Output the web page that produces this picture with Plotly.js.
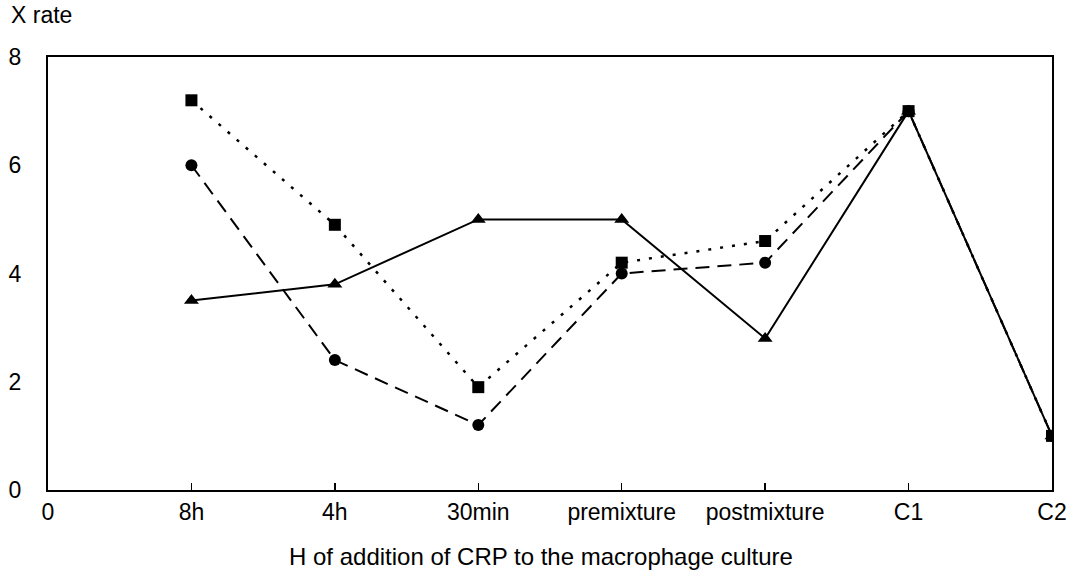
<!DOCTYPE html>
<html>
<head>
<meta charset="utf-8">
<script src="https://cdn.plot.ly/plotly-3.0.1.min.js"></script>
<style>html,body{margin:0;padding:0;background:#fff;}#chart{width:1076px;height:572px;}</style>
</head>
<body>
<div id="chart"></div>
<script>
var tickPositions = [0, 1, 2, 3, 4, 5, 6, 7];
var tickLabels = ["0", "8h", "4h", "30min", "premixture", "postmixture", "C1", "C2"];
var pointX = [1, 2, 3, 4, 5, 6, 7];
var squareValues = [7.2, 4.9, 1.9, 4.2, 4.6, 7.0, 1.0];
var circleValues = [6.0, 2.4, 1.2, 4.0, 4.2, 7.0, 1.0];
var triangleValues = [3.5, 3.8, 5.0, 5.0, 2.8, 7.0, 1.0];

var font = "Liberation Sans, Arial, Helvetica, sans-serif";
var traces = [
  {x: pointX, y: circleValues, mode: "lines+markers", name: "circle",
   line: {color: "#000", width: 2, dash: "14px,8px"},
   marker: {symbol: "circle", size: 12, color: "#000"}},
  {x: pointX, y: triangleValues, mode: "lines+markers", name: "triangle",
   line: {color: "#000", width: 2, dash: "solid"},
   marker: {symbol: "triangle-up", size: 13, color: "#000"}},
  {x: pointX, y: squareValues, mode: "lines+markers", name: "square",
   line: {color: "#000", width: 2.5, dash: "3px,9px"},
   marker: {symbol: "square", size: 12, color: "#000"}}
];
var layout = {
  width: 1076, height: 572,
  margin: {l: 48, r: 24, t: 57, b: 82},
  paper_bgcolor: "#fff", plot_bgcolor: "#fff",
  showlegend: false,
  font: {family: font, size: 23, color: "#000"},
  xaxis: {range: [0, 7], tickvals: tickPositions, ticktext: tickLabels,
    ticks: "inside", ticklen: 7, tickwidth: 1.5, tickcolor: "#000",
    showline: true, linecolor: "#000", linewidth: 2, mirror: true,
    showgrid: false, zeroline: false, tickfont: {size: 23}},
  yaxis: {range: [0, 8], dtick: 2, ticks: "", showline: true, linecolor: "#000",
    linewidth: 2, mirror: true, showgrid: false, zeroline: false,
    ticklabelstandoff: 20, tickfont: {size: 23}},
  annotations: [
    {text: "X rate", xref: "paper", yref: "paper", x: 0, y: 1, xanchor: "left",
     yanchor: "middle", xshift: -39, yshift: 42, showarrow: false, font: {size: 23}},
    {text: "H of addition of CRP to the macrophage culture", xref: "paper", yref: "paper",
     x: 0.491, y: 0, xanchor: "center", yanchor: "middle", yshift: -66, showarrow: false,
     font: {size: 24}}
  ]
};
Plotly.newPlot("chart", traces, layout, {displayModeBar: false, staticPlot: true});
</script>
</body>
</html>
